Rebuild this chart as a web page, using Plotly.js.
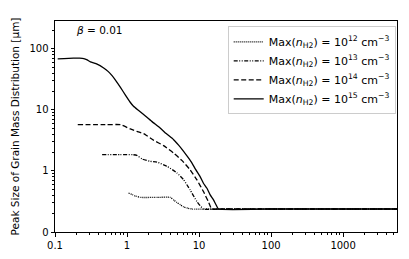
<!DOCTYPE html>
<html><head><meta charset="utf-8">
<script src="https://cdn.plot.ly/plotly-3.0.1.min.js"></script>
<style>body{margin:0;padding:0;background:#fff}#chart{width:409px;height:259px}</style>
</head><body><div id="chart"></div>
<script>
// Series: x = time-like quantity (log axis), y = peak grain size [μm]
const x12 = [1.05, 1.3, 1.53, 2.5, 3.98, 4.5, 4.9, 5.5, 6.1, 7.0, 8.0, 12, 20, 100, 1000, 5600];
const y12 = [0.436, 0.39, 0.369, 0.369, 0.369, 0.33, 0.306, 0.28, 0.257, 0.245, 0.238, 0.238, 0.238, 0.238, 0.238, 0.238];

const x13 = [0.451, 0.8, 1.2, 1.37, 1.62, 2.1, 2.6, 3.6, 4.93, 6.1, 7.5, 9.3, 11.5, 20, 100, 1000, 5600];
const y13 = [1.85, 1.85, 1.85, 1.8, 1.57, 1.44, 1.4, 1.19, 0.93, 0.72, 0.49, 0.318, 0.238, 0.238, 0.238, 0.238, 0.238];

const x14 = [0.207, 0.5, 0.81, 1.11, 1.37, 1.7, 2.35, 3.22, 4.43, 5.77, 7.5, 9.3, 11.5, 13.4, 15, 20, 100, 1000, 5600];
const y14 = [5.74, 5.74, 5.74, 4.88, 4.46, 4.09, 3.18, 2.6, 1.97, 1.49, 1.05, 0.72, 0.46, 0.318, 0.238, 0.238, 0.238, 0.238, 0.238];

const x15 = [0.109, 0.18, 0.22, 0.251, 0.28, 0.31, 0.384, 0.474, 0.55, 0.62, 0.71, 0.81, 0.95, 1.1, 1.23, 1.45, 1.7, 2.2, 2.88, 3.5, 4.43, 5.2, 6.1, 7.0, 7.98, 9.0, 10.3, 11.5, 12.8, 14.2, 15.8, 17.2, 18.6, 100, 1000, 5600];
const y15 = [68.6, 70.5, 70.5, 69.5, 66, 61.5, 56.5, 48.8, 42.5, 36.5, 29.5, 23.5, 17.5, 13.5, 11.5, 9.8, 8.4, 6.5, 5.07, 4.1, 3.26, 2.65, 2.1, 1.68, 1.35, 1.05, 0.815, 0.63, 0.526, 0.41, 0.339, 0.28, 0.238, 0.238, 0.238, 0.238];

const legendNames = [
  "Max(<i>n</i><sub>H2</sub>) = 10<sup>12</sup> cm<sup>−3</sup>",
  "Max(<i>n</i><sub>H2</sub>) = 10<sup>13</sup> cm<sup>−3</sup>",
  "Max(<i>n</i><sub>H2</sub>) = 10<sup>14</sup> cm<sup>−3</sup>",
  "Max(<i>n</i><sub>H2</sub>) = 10<sup>15</sup> cm<sup>−3</sup>"
];
const xTickVals = [0.1, 1, 10, 100, 1000];
const xTickText = ["0.1", "1", "10", "100", "1000"];
const yTickVals = [0.1, 1, 10, 100];
const yTickText = ["0", "1", "10", "100"];

function minorLog(lo, hi) {
  const out = [];
  for (let d = lo; d <= hi; d++) for (let k = 2; k <= 9; k++) out.push(k * Math.pow(10, d));
  return out;
}

const dashes = ["1px,1px", "4px,1.5px,1px,1.5px,1px,1.5px", "5px,2.5px", "solid"];
const xs = [x12, x13, x14, x15], ys = [y12, y13, y14, y15];
const traces = xs.map((x, i) => ({
  x: x, y: ys[i], type: "scatter", mode: "lines", name: legendNames[i],
  line: {color: "#000", width: 1.3, dash: dashes[i], shape: "spline", smoothing: 0.4}
}));

const font = "DejaVu Sans, sans-serif";
const layout = {
  width: 409, height: 259,
  margin: {l: 55, r: 12, t: 21, b: 27},
  paper_bgcolor: "#fff", plot_bgcolor: "#fff",
  showlegend: true,
  legend: {x: 0.505, y: 0.975, xanchor: "left", yanchor: "top",
    bgcolor: "rgba(255,255,255,0.8)", bordercolor: "#ccc", borderwidth: 1,
    font: {family: font, size: 11, color: "#000"}, tracegroupgap: 0, itemwidth: 30},
  xaxis: {type: "log", range: [-1, Math.log10(5600)],
    tickmode: "array", tickvals: xTickVals, ticktext: xTickText,
    ticks: "outside", ticklen: 3.5, tickcolor: "#000", showgrid: false, zeroline: false,
    showline: true, linecolor: "#000", linewidth: 1, mirror: true,
    tickfont: {family: font, size: 10, color: "#000"},
    minor: {tickmode: "array", tickvals: minorLog(-1, 3), ticks: "outside", ticklen: 2, tickcolor: "#000", showgrid: false}},
  yaxis: {type: "log", range: [-1, Math.log10(287)],
    tickmode: "array", tickvals: yTickVals, ticktext: yTickText,
    ticks: "outside", ticklen: 3.5, tickcolor: "#000", showgrid: false, zeroline: false,
    showline: true, linecolor: "#000", linewidth: 1, mirror: true,
    tickfont: {family: font, size: 10, color: "#000"},
    title: {text: "Peak Size of Grain Mass Distribution [μm]", font: {family: font, size: 10.5, color: "#000"}, standoff: 7},
    minor: {tickmode: "array", tickvals: minorLog(-1, 2), ticks: "outside", ticklen: 2, tickcolor: "#000", showgrid: false}},
  annotations: [{xref: "paper", yref: "paper", x: 0.055, y: 0.955, xanchor: "left", yanchor: "middle",
    text: "<i>β</i> = 0.01", showarrow: false, font: {family: font, size: 10.5, color: "#000"}}]
};
Plotly.newPlot("chart", traces, layout, {staticPlot: true, displayModeBar: false});
</script></body></html>
